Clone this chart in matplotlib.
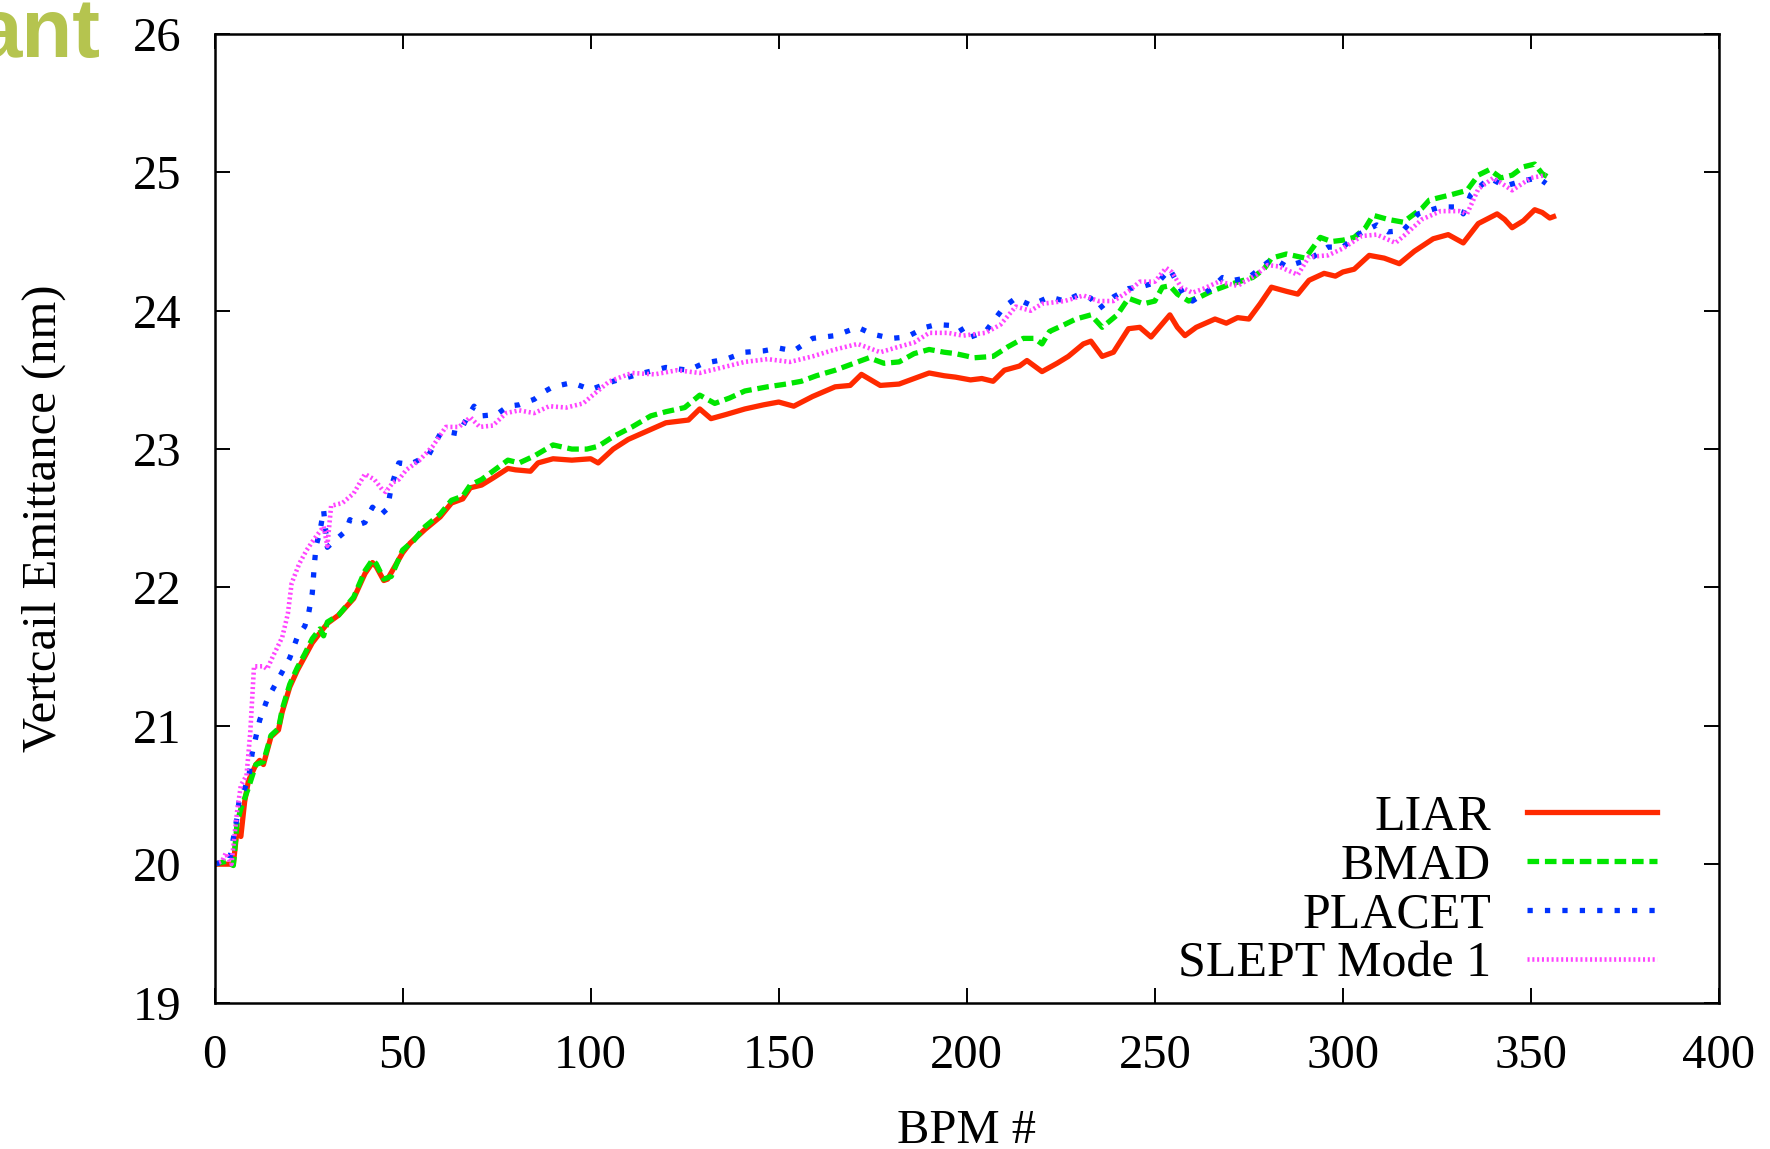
import matplotlib
matplotlib.use("Agg")
import matplotlib.pyplot as plt

# BPM index and vertical emittance (nm) per code
liar_x = [0, 5, 6, 7, 8, 9, 11, 12, 13, 15, 17, 18, 20, 22, 24, 26, 28, 30, 33, 37,
          40, 42, 43, 45, 46, 50, 52, 56, 60, 63, 66, 68, 71, 74, 78, 80, 84, 86, 90, 95,
          100, 102, 106, 110, 115, 120, 126, 129, 132, 136, 141, 146, 150, 154, 159, 165,
          169, 172, 177, 182, 186, 190, 194, 197, 201, 204, 207, 210, 214, 216, 220, 224,
          227, 231, 233, 236, 239, 243, 246, 249, 254, 256, 258, 261, 266, 269, 272, 275,
          278, 281, 285, 288, 291, 295, 298, 300, 303, 307, 311, 315, 319, 324, 328, 332,
          336, 341, 343, 345, 348, 351, 353, 355, 356]
liar_y = [20.0, 20.0, 20.25, 20.2, 20.45, 20.6, 20.72, 20.75, 20.72, 20.92, 20.97, 21.1,
          21.28, 21.4, 21.5, 21.6, 21.67, 21.74, 21.8, 21.92, 22.1, 22.18, 22.15, 22.05,
          22.06, 22.25, 22.32, 22.42, 22.51, 22.61, 22.64, 22.72, 22.74, 22.79, 22.86,
          22.85, 22.84, 22.9, 22.93, 22.92, 22.93, 22.9, 23.0, 23.07, 23.13, 23.19, 23.21,
          23.29, 23.22, 23.25, 23.29, 23.32, 23.34, 23.31, 23.38, 23.45, 23.46, 23.54,
          23.46, 23.47, 23.51, 23.55, 23.53, 23.52, 23.5, 23.51, 23.49, 23.57, 23.6, 23.64,
          23.56, 23.62, 23.67, 23.76, 23.78, 23.67, 23.7, 23.87, 23.88, 23.81, 23.97, 23.88,
          23.82, 23.88, 23.94, 23.91, 23.95, 23.94, 24.05, 24.17, 24.14, 24.12, 24.22,
          24.27, 24.25, 24.28, 24.3, 24.4, 24.38, 24.34, 24.43, 24.52, 24.55, 24.49, 24.63,
          24.7, 24.66, 24.6, 24.65, 24.73, 24.71, 24.67, 24.68]

bmad_x = [0, 3, 5, 6, 7, 9, 11, 13, 15, 17, 18, 20, 22, 24, 26, 28, 29, 30, 33, 37, 40,
          42, 43, 45, 47, 50, 53, 56, 60, 63, 66, 68, 71, 75, 78, 81, 85, 90, 95, 99, 102,
          106, 111, 116, 120, 125, 129, 133, 137, 141, 147, 152, 156, 160, 165, 170, 174,
          178, 182, 186, 190, 194, 197, 202, 207, 211, 215, 218, 220, 222, 226, 229, 233,
          236, 240, 243, 247, 250, 252, 254, 256, 259, 262, 265, 270, 276, 279, 281, 285,
          290, 294, 297, 300, 303, 306, 308, 312, 316, 321, 323, 329, 333, 336, 339, 342,
          345, 348, 351, 353, 355]
bmad_y = [20.0, 20.02, 19.99, 20.3, 20.4, 20.55, 20.72, 20.74, 20.93, 20.98, 21.12, 21.3,
          21.42, 21.52, 21.63, 21.7, 21.65, 21.75, 21.8, 21.93, 22.12, 22.2, 22.17, 22.06,
          22.08, 22.27, 22.34, 22.44, 22.53, 22.63, 22.66, 22.74, 22.78, 22.86, 22.92,
          22.9, 22.95, 23.03, 23.0, 23.0, 23.02, 23.09, 23.16, 23.24, 23.27, 23.3, 23.39,
          23.33, 23.37, 23.42, 23.45, 23.47, 23.49, 23.53, 23.57, 23.62, 23.66, 23.62,
          23.63, 23.69, 23.72, 23.7, 23.69, 23.66, 23.67, 23.74, 23.8, 23.8, 23.76, 23.85,
          23.9, 23.94, 23.97, 23.88, 23.97, 24.09, 24.05, 24.07, 24.17, 24.18, 24.12,
          24.07, 24.1, 24.14, 24.19, 24.24, 24.3, 24.38, 24.41, 24.38, 24.53, 24.5, 24.51,
          24.53, 24.6, 24.69, 24.66, 24.64, 24.74, 24.8, 24.84, 24.87, 24.98, 25.02, 24.96,
          24.98, 25.04, 25.06, 24.99, 24.96]

placet_x = [0, 4, 6, 6.5, 9, 10, 12, 14, 17, 20, 22, 24, 25, 26, 26.5, 27, 28, 29, 30,
            32, 35, 36, 38, 40, 42, 44, 46, 47, 49, 52, 55, 57, 60, 63, 65, 67, 69, 71,
            75, 78, 81, 85, 88, 90, 95, 100, 106, 110, 114, 120, 126, 130, 136, 141, 146,
            150, 154, 159, 165, 171, 175, 180, 184, 189, 192, 198, 200, 205, 210, 213, 217,
            222, 226, 230, 233, 235, 239, 243, 246, 251, 254, 256, 258, 260, 265, 268, 271,
            275, 280, 282, 285, 291, 296, 300, 304, 309, 312, 316, 320, 326, 331, 332, 334,
            339, 343, 348, 352, 354]
placet_y = [20.0, 20.03, 20.34, 20.45, 20.61, 20.8, 21.04, 21.19, 21.34, 21.49, 21.64,
            21.72, 21.81, 21.96, 22.15, 22.3, 22.4, 22.56, 22.29, 22.34, 22.41, 22.49,
            22.45, 22.47, 22.58, 22.52, 22.57, 22.73, 22.9, 22.89, 22.93, 22.96, 23.11,
            23.12, 23.11, 23.22, 23.31, 23.24, 23.25, 23.31, 23.32, 23.36, 23.42, 23.45,
            23.48, 23.43, 23.49, 23.52, 23.55, 23.59, 23.57, 23.62, 23.65, 23.7, 23.71,
            23.73, 23.71, 23.8, 23.82, 23.88, 23.83, 23.8, 23.81, 23.88, 23.9, 23.89, 23.8,
            23.85, 24.03, 24.09, 24.04, 24.1, 24.07, 24.12, 24.09, 24.01, 24.1, 24.16,
            24.17, 24.21, 24.3, 24.2, 24.1, 24.07, 24.16, 24.24, 24.22, 24.24, 24.35,
            24.37, 24.32, 24.37, 24.46, 24.46, 24.55, 24.62, 24.57, 24.58, 24.7, 24.75,
            24.75, 24.7, 24.84, 24.96, 24.9, 24.94, 24.96, 24.92]

slept_x = [0, 2, 3, 4.5, 6, 7, 8.5, 9.5, 10, 10.5, 13, 14, 15.5, 18, 19.5, 20.5, 22.5,
           24.5, 26.5, 29, 30, 31, 34, 37, 40, 42.5, 44.5, 45.5, 47.5, 49, 51, 54.5, 58,
           61.5, 65, 68, 70.5, 74, 77.5, 81, 85, 89, 93.5, 98, 101, 105, 111, 117, 123,
           129, 135, 141, 147, 153, 159, 165, 171, 177, 182, 186, 190, 195, 199, 205, 209,
           213, 217, 220, 226, 231, 235, 239, 243, 246, 250, 253, 254.5, 257, 260, 263,
           267, 272, 277, 280, 283, 288, 291, 296, 300, 305, 309, 314, 317, 321, 326, 331,
           333, 336, 340, 345, 350, 354]
slept_y = [20.0, 20.02, 20.08, 20.0, 20.38, 20.57, 20.64, 20.95, 21.19, 21.43, 21.43,
           21.41, 21.5, 21.64, 21.81, 22.03, 22.17, 22.27, 22.35, 22.44, 22.3, 22.59,
           22.61, 22.68, 22.82, 22.78, 22.71, 22.69, 22.76, 22.78, 22.85, 22.92, 23.02,
           23.16, 23.16, 23.23, 23.16, 23.17, 23.26, 23.28, 23.26, 23.31, 23.3, 23.33,
           23.4, 23.49, 23.55, 23.54, 23.57, 23.55, 23.59, 23.63, 23.65, 23.63, 23.67,
           23.72, 23.76, 23.7, 23.74, 23.77, 23.84, 23.84, 23.82, 23.84, 23.9, 24.03, 24.0,
           24.05, 24.07, 24.11, 24.07, 24.07, 24.14, 24.21, 24.21, 24.31, 24.28, 24.17,
           24.13, 24.16, 24.21, 24.18, 24.26, 24.33, 24.32, 24.26, 24.39, 24.4, 24.45,
           24.54, 24.55, 24.49, 24.56, 24.66, 24.72, 24.72, 24.7, 24.88, 24.96, 24.87,
           24.96, 24.98]

x_ticks = [0, 50, 100, 150, 200, 250, 300, 350, 400]
y_ticks = [19, 20, 21, 22, 23, 24, 25, 26]

plt.rcParams["font.family"] = ["Liberation Serif", "DejaVu Serif"]
plt.rcParams["font.size"] = 35

fig = plt.figure(figsize=(17.7, 11.49), dpi=100)
ax = fig.add_axes([0.1212, 0.1275, 0.85, 0.8429])

ax.plot(liar_x, liar_y, color="#ff2a00", lw=3.8, label="LIAR")
ax.plot(bmad_x, bmad_y, color="#00e600", lw=3.8, dashes=(2.2, 1.1), label="BMAD")
ax.plot(placet_x, placet_y, color="#0033ff", lw=3.8, dashes=(1.0, 2.3), label="PLACET")
ax.plot(slept_x, slept_y, color="#ff44ff", lw=3.3, dashes=(0.45, 0.6), label="SLEPT Mode 1")

ax.set_xlim(0, 400)
ax.set_ylim(19, 26)
ax.set_xticks(x_ticks)
ax.set_yticks(y_ticks)
ax.tick_params(direction="in", length=11, width=1.4, top=True, right=True)
ax.tick_params(axis="x", pad=23)
ax.tick_params(axis="y", pad=24)
for s in ax.spines.values():
    s.set_linewidth(1.8)

ax.set_xlabel("BPM #")
ax.set_ylabel("Vertcail Emittance (nm)")
ax.xaxis.set_label_coords(0.5, -0.11)
ax.yaxis.set_label_coords(-0.099, 0.5)

ax.legend(loc="lower right", bbox_to_anchor=(0.9588, 0.015), frameon=False,
          markerfirst=False, handlelength=2.6, handletextpad=0.72, fontsize=36,
          labelspacing=0.05, borderpad=0, borderaxespad=0)

# leftover slide title fragment in the corner
fig.text(0.0565, 1 - 57 / 1149, "ant", color="#b5c44f", fontsize=60,
         fontweight="bold", family="Liberation Sans", ha="right", va="baseline")

fig.savefig("out.png", dpi=100)
